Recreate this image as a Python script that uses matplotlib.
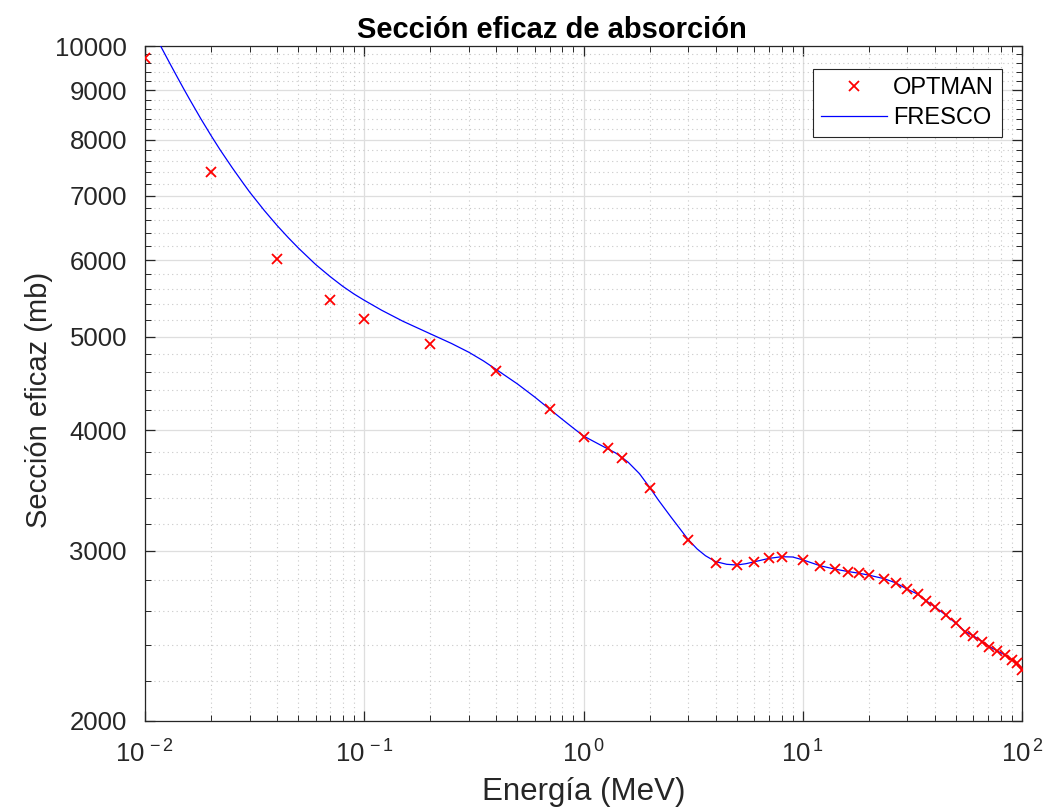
import numpy as np
import matplotlib
matplotlib.use("Agg")
import matplotlib.pyplot as plt
from matplotlib.ticker import FixedLocator, NullFormatter, FuncFormatter

plt.rcParams['font.family'] = ['Liberation Sans', 'DejaVu Sans']
plt.rcParams['mathtext.fontset'] = 'custom'
plt.rcParams['mathtext.rm'] = 'Liberation Sans'
plt.rcParams['mathtext.it'] = 'Liberation Sans:italic'
plt.rcParams['mathtext.bf'] = 'Liberation Sans:bold'

# OPTMAN data (energy MeV, cross section mb)
optman_e = [0.01, 0.02, 0.04, 0.07, 0.1, 0.2, 0.4, 0.7, 1, 1.3, 1.5, 2, 3, 4, 5, 6, 7, 8,
            10, 12, 14, 16, 18, 20, 23.5, 26.5, 30, 33.5, 36.5, 40, 45, 50, 55, 60, 66,
            71, 77, 84, 90, 95, 100]
optman_xs = [9714, 7400, 6018, 5458, 5212, 4916, 4610, 4208, 3940, 3832, 3748, 3484, 3078,
             2916, 2900, 2924, 2948, 2960, 2935, 2894, 2872, 2856, 2844, 2831, 2808, 2781,
             2740, 2705, 2664, 2626, 2574, 2524, 2474, 2450, 2417, 2388, 2364, 2341, 2313,
             2295, 2257]

# FRESCO curve
fresco_e = [0.01, 0.012, 0.013, 0.014, 0.015, 0.016, 0.018, 0.02, 0.022, 0.025, 0.028,
            0.03, 0.035, 0.04, 0.045, 0.05, 0.06, 0.07, 0.08, 0.09, 0.1, 0.12, 0.15, 0.2,
            0.25, 0.3, 0.35, 0.4, 0.5, 0.6, 0.7, 0.8, 0.9, 1, 1.2, 1.4, 1.5, 1.6, 1.8, 2,
            2.2, 2.5, 2.8, 3, 3.3, 3.6, 4, 4.5, 5, 5.5, 6, 7, 8, 9, 10,
            12, 14, 16, 18, 20, 23.5, 26.5, 30, 33.5, 36.5, 40, 45, 50, 55, 60, 66, 71, 77,
            84, 90, 95, 100]
fresco_xs = [10754, 9921, 9588, 9295, 9033, 8801, 8403, 8079, 7808, 7480, 7214,
             7060, 6756, 6520, 6333, 6179, 5940, 5769, 5636, 5534, 5454, 5326, 5188, 5035,
             4920, 4818, 4719, 4624, 4467, 4329, 4208, 4106, 4020, 3946, 3860, 3790, 3748,
             3706, 3607, 3492, 3385, 3255, 3147, 3083, 3014, 2966, 2925, 2906, 2901, 2910,
             2923, 2947, 2959, 2957, 2937,
             2896, 2873, 2857, 2845, 2832, 2808, 2781, 2738, 2706, 2665, 2626, 2574, 2524,
             2476, 2450, 2417, 2388, 2364, 2340, 2313, 2293, 2257]

y_ticks = [2000, 3000, 4000, 5000, 6000, 7000, 8000, 9000, 10000]
x_ticks = [1e-2, 1e-1, 1e0, 1e1, 1e2]
x_tick_labels = [r'$10^{\,-2}$', r'$10^{\,-1}$', r'$10^{\,0}$', r'$10^{\,1}$', r'$10^{\,2}$']

fig = plt.figure(figsize=(10.48, 8.10), dpi=100)
ax = fig.add_axes([145/1048, (810-721)/810, 877/1048, 675/810])

ax.plot(fresco_e, fresco_xs, color='#0000ff', lw=0.9, label='FRESCO', zorder=3)
ax.plot(optman_e, optman_xs, linestyle='none', marker='x', color='#ff0000',
        markersize=7.5, markeredgewidth=1.3, label='OPTMAN', zorder=4)

ax.set_xscale('log')
ax.set_yscale('log')
ax.set_xlim(1e-2, 1e2)
ax.set_ylim(2000, 10000)

ax.xaxis.set_major_locator(FixedLocator(x_ticks))
ax.set_xticklabels(x_tick_labels)
minor_x = [m * 10.0**d for d in range(-2, 2) for m in range(2, 10)]
ax.xaxis.set_minor_locator(FixedLocator(minor_x))
ax.xaxis.set_minor_formatter(NullFormatter())

ax.yaxis.set_major_locator(FixedLocator(y_ticks))
ax.yaxis.set_major_formatter(FuncFormatter(lambda v, p: f'{int(round(v))}'))
minor_y = [v for v in range(2000, 10001, 200) if v % 1000 != 0]
ax.yaxis.set_minor_locator(FixedLocator(minor_y))
ax.yaxis.set_minor_formatter(NullFormatter())

ax.grid(True, which='major', color='#dedede', linestyle='-', linewidth=0.9, zorder=0)
ax.grid(True, which='minor', color='#c8c8c8', linestyle=(0, (1, 3)), linewidth=0.8, zorder=0)
ax.set_axisbelow(True)

for s in ax.spines.values():
    s.set_color('#262626')
    s.set_linewidth(0.9)
ax.tick_params(which='both', direction='in', top=True, right=True, colors='#262626',
               labelcolor='#262626', labelsize=18.5)
ax.tick_params(which='major', length=7, width=0.9)
ax.tick_params(which='minor', length=4, width=0.7)
ax.tick_params(axis='y', which='major', pad=13)
ax.tick_params(axis='x', which='major', pad=14)

ax.set_xlabel('Energía (MeV)', fontsize=22.5, color='#262626', labelpad=7)
ax.set_ylabel('Sección eficaz (mb)', fontsize=21, color='#262626', labelpad=8)
ax.yaxis.set_label_coords(-0.105, (721 - 400) / 675)
ax.set_title('Sección eficaz de absorción', fontsize=21, fontweight='bold', pad=6,
             x=(552 - 145) / 877)

handles, labels = ax.get_legend_handles_labels()
leg = ax.legend(handles[::-1], labels[::-1], loc='upper right',
                bbox_to_anchor=((1002 - 145) / 877, (721 - 69) / 675), borderaxespad=0,
                fontsize=17, frameon=True, fancybox=False, edgecolor='#262626',
                framealpha=1, numpoints=1, handlelength=2.8, borderpad=0.35,
                labelspacing=0.33, handletextpad=0.25)
leg.get_frame().set_linewidth(0.8)

fig.savefig('out.png', dpi=100)
